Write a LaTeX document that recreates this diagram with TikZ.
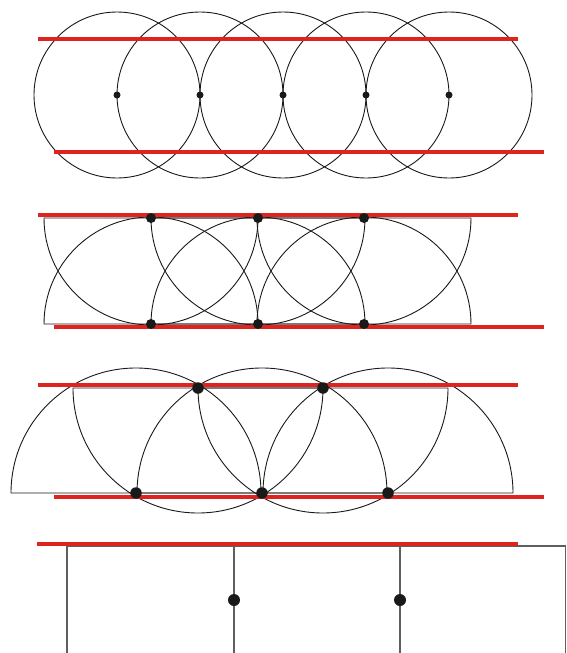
\documentclass[tikz,border=0pt]{standalone}
\definecolor{stripred}{RGB}{221,36,30}
\definecolor{wallgray}{RGB}{95,95,95}
\tikzset{
  stripe/.style={line width=4pt, stripred},
  ring/.style={line width=0.9pt, black!90},
  wall/.style={line width=1.2pt, wallgray},
  blob/.style={circle, fill=black!90, inner sep=0pt, minimum size=#1},
  blob/.default=11pt
}
\begin{document}
\begin{tikzpicture}[x=1pt, y=1pt]
    \useasboundingbox (0,0) rectangle (566,-653);

    % 1. Five full circles, each through the next centre
    \foreach \i/\x in {1/117, 2/200, 3/283, 4/366, 5/449} {
        \coordinate (a\i) at (\x,-95);
        \draw[ring] (a\i) circle (83);
    }
    \foreach \i in {1,...,5}
        \node[blob=7pt] (da\i) at (a\i) {};

    % 2. Half discs, centres straight above one another
    \foreach \i/\x in {1/151, 2/258, 3/364} {
        \coordinate (t\i) at (\x,-218);
        \coordinate (b\i) at (\x,-324);
        \draw[ring] (t\i) ++(-107,0) arc[start angle=180, end angle=360, radius=107] -- cycle;
        \draw[ring] (b\i) ++(-107,0) arc[start angle=180, end angle=0, radius=107] -- cycle;
    }

    % 3. Half discs, centres staggered
    \foreach \i/\x in {1/136, 2/262, 3/388} {
        \coordinate (c\i) at (\x,-493);
        \draw[ring] (c\i) ++(-125,0) arc[start angle=180, end angle=0, radius=125] -- cycle;
    }
    \foreach \i/\x in {1/198, 2/323} {
        \coordinate (u\i) at (\x,-388);
        \draw[ring] (u\i) ++(-125,0) arc[start angle=180, end angle=360, radius=125] -- cycle;
    }

    % 4. Square cells
    \draw[wall] (67,-653) -- (67,-546) -- (565.5,-546) -- (565.5,-653);
    \draw[wall] (234,-546) -- (234,-653);
    \draw[wall] (400,-546) -- (400,-653);

    % Red strips
    \foreach \ytop/\ybot in {39/152, 214.5/327, 385/497} {
        \draw[stripe] (38,-\ytop) -- (518,-\ytop);
        \draw[stripe] (54,-\ybot) -- (544,-\ybot);
    }
    \draw[stripe] (37,-543.5) -- (518,-543.5);

    % Points
    \foreach \i in {1,2,3} {
        \node[blob=10pt] (dt\i) at (t\i) {};
        \node[blob=10pt] (db\i) at (b\i) {};
        \node[blob=11.5pt] (dc\i) at (c\i) {};
    }
    \foreach \i in {1,2}
        \node[blob=11.5pt] (du\i) at (u\i) {};
    \node[blob=12pt] (w1) at (234,-600) {};
    \node[blob=12pt] (w2) at (400,-600) {};

\end{tikzpicture}
\end{document}
